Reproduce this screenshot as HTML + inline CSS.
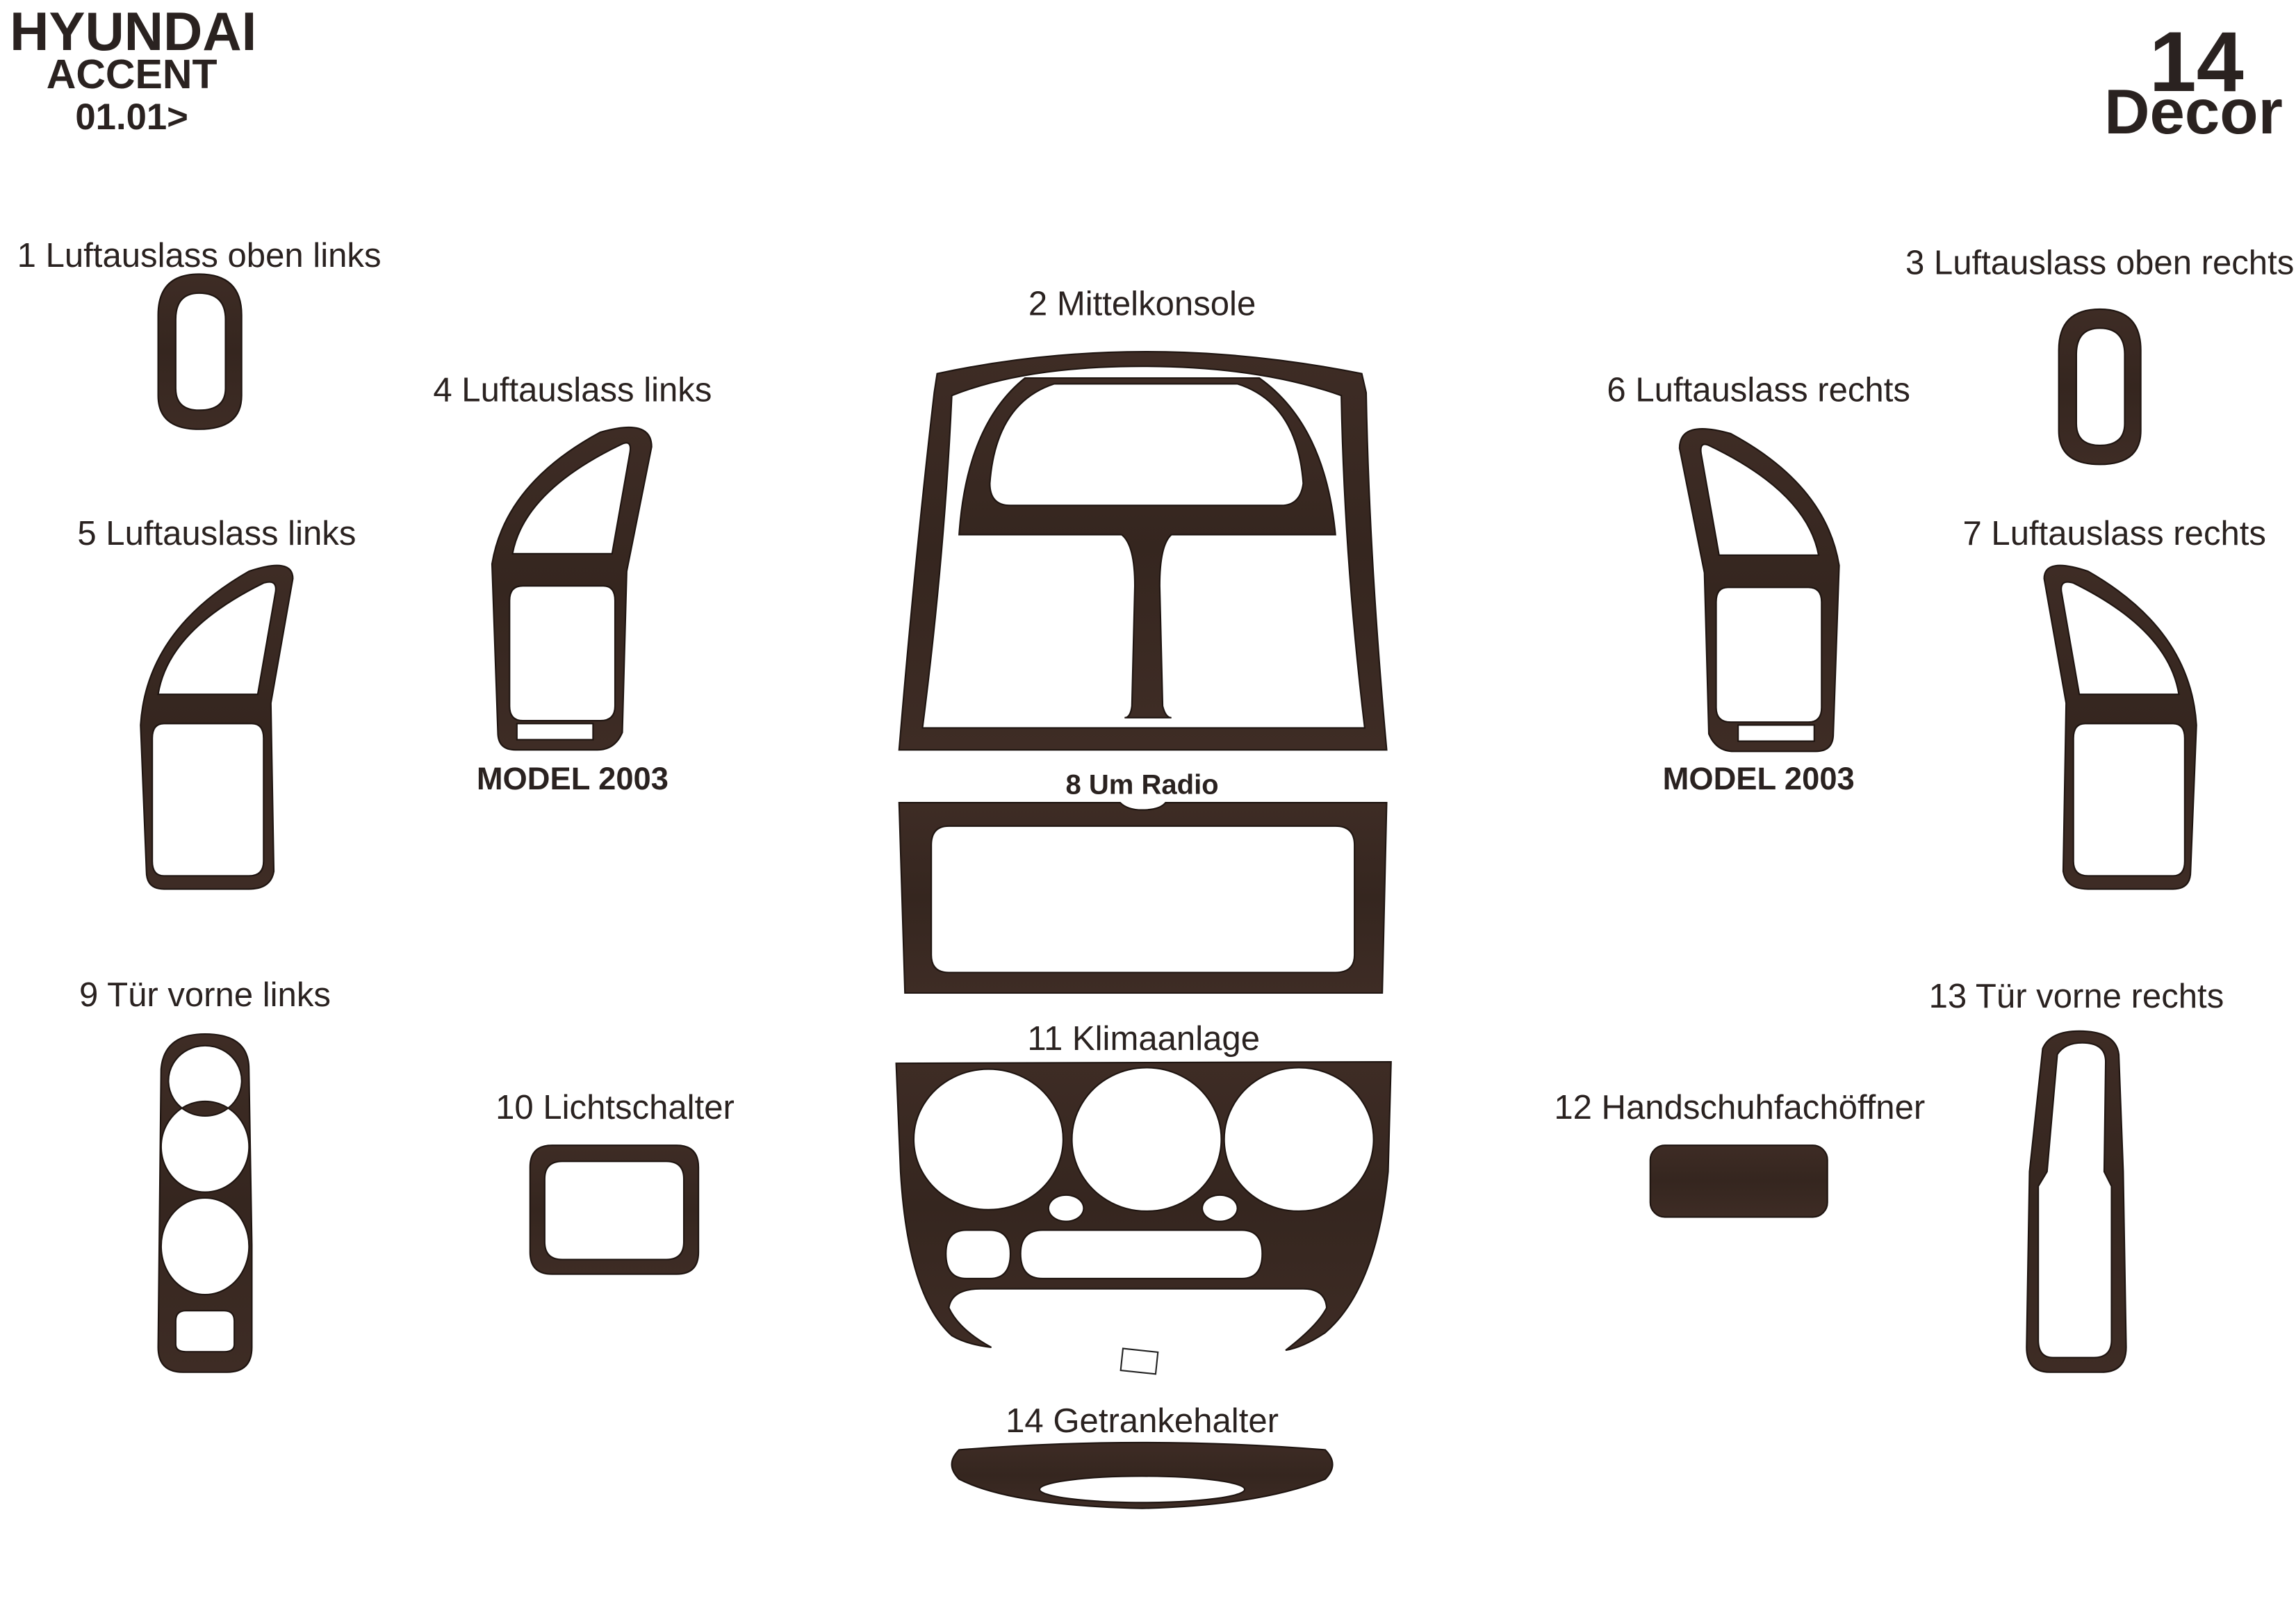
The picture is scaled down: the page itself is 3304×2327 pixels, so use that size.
<!DOCTYPE html>
<html><head><meta charset="utf-8"><style>
html,body{margin:0;padding:0;background:#fff;}
svg{display:block;}
text{font-family:"Liberation Sans",sans-serif;fill:#2a2220;}
</style></head><body>
<svg width="3304" height="2327" viewBox="0 0 1568 1104" xmlns="http://www.w3.org/2000/svg">
<defs>
<linearGradient id="w" x1="0" y1="0" x2="0" y2="1">
<stop offset="0" stop-color="#3e2c25"/><stop offset="0.5" stop-color="#35261f"/><stop offset="1" stop-color="#3e2c25"/>
</linearGradient>
</defs>
<g fill="url(#w)" fill-rule="evenodd" stroke="#1e1410" stroke-width="1">
<path d="M108,215 Q108,187 136,187 Q165,187 165,215 L165,270 Q165,293 136,293 Q108,293 108,270 Z M120,218 Q120,200 136,200 Q154,200 154,218 L154,265 Q154,280 136,280 Q120,280 120,265 Z"/>
<path d="M1406,239 Q1406,211 1434,211 Q1462,211 1462,239 L1462,294 Q1462,317 1434,317 Q1406,317 1406,294 Z M1418,242 Q1418,224 1434,224 Q1451,224 1451,242 L1451,289 Q1451,304 1434,304 Q1418,304 1418,289 Z"/>
<path d="M640,255 Q780,225 930,255 L933,268 Q935,380 947,512 L614,512 Q625,380 638,268 Z M650,270 Q645,380 630,497 L932,497 Q918,380 916,270 Q860,250 780,250 Q700,250 650,270 Z"/>
<path d="M655,365 Q660,290 700,258 L860,258 Q905,290 912,365 L800,365 Q792,372 792,400 L794,482 Q796,490 800,490 L768,490 Q772,490 773,482 L775,400 Q775,372 766,365 Z M676,330 Q680,275 720,262 L845,262 Q886,275 890,330 Q888,345 875,345 L690,345 Q676,345 676,330 Z"/>
<path d="M614,548 L765,548 Q770,553 780,553 Q792,553 796,548 L947,548 L944,678 L618,678 Z M648,564 L912,564 Q925,564 925,577 L925,652 Q925,664 912,664 L648,664 Q636,664 636,652 L636,577 Q636,564 648,564 Z"/>
<path d="M612,726 L950,725 L948,800 Q940,880 905,910 Q890,920 878,922 Q900,905 906,893 Q905,880 890,880 L670,880 Q650,880 648,893 Q655,908 677,920 Q660,918 650,912 Q620,885 615,800 Z
M675,730 A51,48 0 1,0 675.1,730 Z M783,729 A51,49 0 1,0 783.1,729 Z M887,729 A51,49 0 1,0 887.1,729 Z
M728,816 A12,9 0 1,0 728.1,816 Z M833,816 A12,9 0 1,0 833.1,816 Z
M660,840 L676,840 Q690,840 690,856 Q690,873 676,873 L660,873 Q646,873 646,856 Q646,840 660,840 Z
M712,840 L848,840 Q862,840 862,856 Q862,873 848,873 L712,873 Q697,873 697,856 Q697,840 712,840 Z"/>
<path d="M655,990 Q780,980 905,990 Q915,1000 905,1010 Q860,1028 780,1030 Q690,1028 655,1010 Q645,1000 655,990 Z M710,1017 A70,9 0 1,0 850,1017 A70,9 0 1,0 710,1017 Z"/>
<rect x="1127" y="782" width="121" height="49" rx="10"/>
<path d="M377,782 L462,782 Q477,782 477,797 L477,855 Q477,870 462,870 L377,870 Q362,870 362,855 L362,797 Q362,782 377,782 Z M384,793 L455,793 Q467,793 467,805 L467,848 Q467,860 455,860 L384,860 Q372,860 372,848 L372,805 Q372,793 384,793 Z"/>
<path d="M110,730 Q112,706 140,706 Q170,706 170,730 L172,850 L172,920 Q172,937 155,937 L125,937 Q108,937 108,920 Z
M140,714 A25,24 0 1,0 140.1,714 Z M140,752 A30,31 0 1,0 140.1,752 Z M140,818 A30,33 0 1,0 140.1,818 Z
M127,895 L153,895 Q160,895 160,902 L160,918 Q160,923 153,923 L127,923 Q120,923 120,918 L120,902 Q120,895 127,895 Z"/>
<path d="M1395,716 Q1400,704 1420,704 Q1445,704 1447,720 L1450,800 L1452,920 Q1452,937 1435,937 L1400,937 Q1384,937 1384,920 L1386,800 Z M1405,720 Q1410,712 1422,712 Q1438,712 1438,725 L1437,800 L1442,810 L1442,915 Q1442,927 1430,927 L1402,927 Q1392,927 1392,915 L1392,810 L1398,800 Z"/>
<g>
<path d="M340,500 L336,385 Q345,330 410,295 Q445,285 445,305 L428,390 L425,500 Q420,512 408,512 L352,512 Q340,512 340,500 Z M350,378 Q358,335 425,303 Q432,300 430,310 L418,378 Z M357,400 L412,400 Q420,400 420,410 L420,482 Q420,492 410,492 L357,492 Q348,492 348,482 L348,410 Q348,400 357,400 Z"/>
<rect x="353" y="494" width="52" height="11" fill="#fff" stroke="#1e1410"/>
</g>
<g transform="translate(1592,1) scale(-1,1)">
<path d="M340,500 L336,385 Q345,330 410,295 Q445,285 445,305 L428,390 L425,500 Q420,512 408,512 L352,512 Q340,512 340,500 Z M350,378 Q358,335 425,303 Q432,300 430,310 L418,378 Z M357,400 L412,400 Q420,400 420,410 L420,482 Q420,492 410,492 L357,492 Q348,492 348,482 L348,410 Q348,400 357,400 Z"/>
<rect x="353" y="494" width="52" height="11" fill="#fff" stroke="#1e1410"/>
</g>
<path d="M100,595 L96,495 Q100,430 170,390 Q200,380 200,395 L185,480 L187,595 Q185,607 170,607 L112,607 Q100,607 100,595 Z M108,474 Q115,430 180,398 Q190,395 188,405 L176,474 Z M112,494 L172,494 Q180,494 180,504 L180,588 Q180,598 170,598 L112,598 Q104,598 104,588 L104,504 Q104,494 112,494 Z"/>
<g transform="translate(1596,0) scale(-1,1)">
<path d="M100,595 L96,495 Q100,430 170,390 Q200,380 200,395 L185,480 L187,595 Q185,607 170,607 L112,607 Q100,607 100,595 Z M108,474 Q115,430 180,398 Q190,395 188,405 L176,474 Z M112,494 L172,494 Q180,494 180,504 L180,588 Q180,598 170,598 L112,598 Q104,598 104,588 L104,504 Q104,494 112,494 Z"/>
</g>
</g>
<rect x="766" y="922" width="24" height="15" fill="none" stroke="#222" stroke-width="1" transform="rotate(6 778 930)"/>
<text x="91" y="34" font-size="37" font-weight="bold" text-anchor="middle">HYUNDAI</text>
<text x="90" y="60" font-size="28" font-weight="bold" text-anchor="middle">ACCENT</text>
<text x="90" y="88" font-size="25" font-weight="bold" text-anchor="middle">01.01&gt;</text>
<text x="1500" y="62" font-size="58" font-weight="bold" text-anchor="middle">14</text>
<text x="1498" y="91" font-size="43" font-weight="bold" text-anchor="middle">Decor</text>
<g font-size="23.3">
<text x="136" y="182" text-anchor="middle">1 Luftauslass oben links</text>
<text x="1434" y="187" text-anchor="middle">3 Luftauslass oben rechts</text>
<text x="780" y="215" text-anchor="middle">2 Mittelkonsole</text>
<text x="391" y="274" text-anchor="middle">4 Luftauslass links</text>
<text x="1201" y="274" text-anchor="middle">6 Luftauslass rechts</text>
<text x="148" y="372" text-anchor="middle">5 Luftauslass links</text>
<text x="1444" y="372" text-anchor="middle">7 Luftauslass rechts</text>
<text x="140" y="687" text-anchor="middle">9 Tür vorne links</text>
<text x="1418" y="688" text-anchor="middle">13 Tür vorne rechts</text>
<text x="420" y="764" text-anchor="middle">10 Lichtschalter</text>
<text x="1188" y="764" text-anchor="middle">12 Handschuhfachöffner</text>
<text x="781" y="717" text-anchor="middle">11 Klimaanlage</text>
<text x="780" y="978" text-anchor="middle">14 Getrankehalter</text>
</g>
<text x="780" y="542" font-size="19" font-weight="bold" text-anchor="middle">8 Um Radio</text>
<text x="391" y="539" font-size="21.5" font-weight="bold" text-anchor="middle">MODEL 2003</text>
<text x="1201" y="539" font-size="21.5" font-weight="bold" text-anchor="middle">MODEL 2003</text>
</svg>
</body></html>
